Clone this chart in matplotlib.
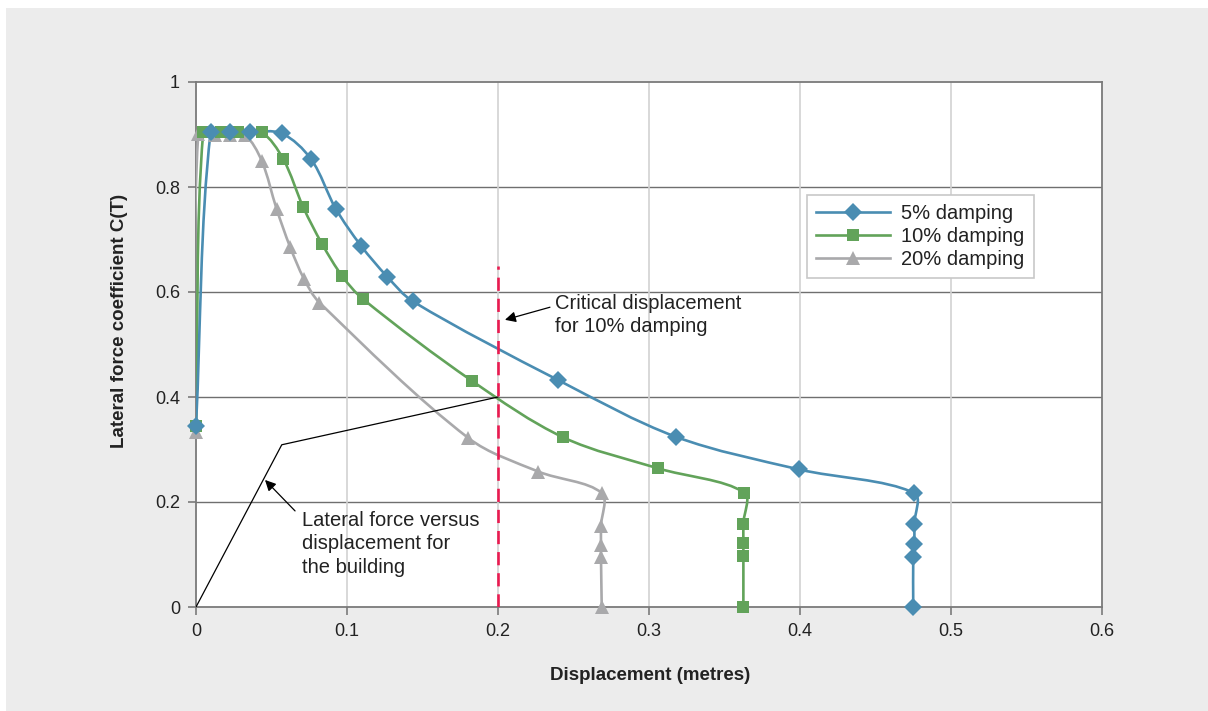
import numpy as np
import matplotlib
matplotlib.use("Agg")
import matplotlib.pyplot as plt
import matplotlib.path as mppath
import matplotlib.patches as mpatches
from matplotlib.lines import Line2D

plt.rcParams['font.family'] = ['Liberation Sans', 'DejaVu Sans']

# values
disp_5 = [0, 0.0097, 0.0225, 0.0358, 0.0568, 0.0762, 0.0925, 0.1093, 0.1267, 0.1437,
          0.240, 0.318, 0.3995, 0.4757, 0.4757, 0.4757, 0.4750, 0.4750]
coef_5 = [0.345, 0.905, 0.905, 0.905, 0.902, 0.853, 0.759, 0.688, 0.629, 0.582,
          0.432, 0.324, 0.262, 0.217, 0.158, 0.120, 0.096, 0.0]

disp_10 = [0, 0.0048, 0.0164, 0.028, 0.0435, 0.0578, 0.0711, 0.0836, 0.0969, 0.1108,
           0.1826, 0.2433, 0.3062, 0.3631, 0.3625, 0.3625, 0.3625, 0.3625]
coef_10 = [0.345, 0.905, 0.905, 0.905, 0.904, 0.853, 0.761, 0.691, 0.630, 0.586,
           0.431, 0.323, 0.264, 0.218, 0.159, 0.122, 0.098, 0.0]

disp_20 = [0, 0.0015, 0.0126, 0.0225, 0.0325, 0.0435, 0.0534, 0.0623, 0.0717, 0.0817,
           0.1803, 0.2267, 0.2687, 0.2682, 0.2682, 0.2682, 0.2687]
coef_20 = [0.334, 0.901, 0.899, 0.899, 0.899, 0.850, 0.758, 0.686, 0.624, 0.580,
           0.322, 0.258, 0.217, 0.154, 0.119, 0.095, 0.0]

building_disp = [0, 0.0568, 0.2]
building_coef = [0, 0.309, 0.4]

critical_disp = 0.2
critical_top = 0.65

series_labels = ['5% damping', '10% damping', '20% damping']
x_ticks = [0, 0.1, 0.2, 0.3, 0.4, 0.5, 0.6]
x_tick_labels = ['0', '0.1', '0.2', '0.3', '0.4', '0.5', '0.6']
y_ticks = [0, 0.2, 0.4, 0.6, 0.8, 1.0]
y_tick_labels = ['0', '0.2', '0.4', '0.6', '0.8', '1']

BLUE = '#4a8db2'
GREEN = '#62a35a'
GRAY = '#a9a9ab'
RED = '#ea1a50'


def smooth_path(xs, ys, sx, sy):
    """ Excel-like smoothed line: cubic bezier through every point,
    tangents weighted by neighbouring segment lengths (screen scaled) """
    p = np.column_stack([np.asarray(xs) * sx, np.asarray(ys) * sy])
    n = len(p)
    verts = [p[0]]
    codes = [mppath.Path.MOVETO]
    for i in range(n - 1):
        p0 = p[i - 1] if i > 0 else p[i]
        p1, p2 = p[i], p[i + 1]
        p3 = p[i + 2] if i + 2 < n else p[i + 1]
        l01 = np.hypot(*(p1 - p0))
        l12 = np.hypot(*(p2 - p1))
        l23 = np.hypot(*(p3 - p2))
        t1 = (p2 - p0) * (l12 / (l01 + l12)) / 3 if l01 + l12 > 0 else 0
        t2 = (p3 - p1) * (l12 / (l12 + l23)) / 3 if l12 + l23 > 0 else 0
        verts += [p1 + t1, p2 - t2, p2]
        codes += [mppath.Path.CURVE4] * 3
    verts = np.array(verts)
    verts[:, 0] /= sx
    verts[:, 1] /= sy
    return mppath.Path(verts, codes)


fig = plt.figure(figsize=(12.08, 7.11), dpi=100, facecolor='white')
fig.patches.append(mpatches.Rectangle((6 / 1208, 0), 1, 703 / 711, transform=fig.transFigure,
                                      facecolor='#ececec', edgecolor='none', zorder=-10))

ax = fig.add_axes([196 / 1208, 1 - 607 / 711, 906 / 1208, 525 / 711])
ax.set_facecolor('white')
ax.set_xlim(0, 0.6)
ax.set_ylim(0, 1)

# gridlines: dark horizontal, light vertical
for y in y_ticks[1:-1]:
    ax.axhline(y, color='#6f6f6f', lw=1.0, zorder=1)
for x in x_ticks[1:-1]:
    ax.axvline(x, color='#d2d2d2', lw=1.2, zorder=1)

for sp in ax.spines.values():
    sp.set_color('#7a7a7a')
    sp.set_linewidth(1.3)

ax.set_xticks(x_ticks)
ax.set_xticklabels(x_tick_labels)
ax.set_yticks(y_ticks)
ax.set_yticklabels(y_tick_labels)
ax.tick_params(direction='out', length=5.5, width=1.2, color='#7a7a7a',
               labelsize=13, labelcolor='#222222', pad=6)

sx, sy = 906 / 0.6, 525.0
series = [(disp_5, coef_5, BLUE, 'D', 9.0), (disp_10, coef_10, GREEN, 's', 8.6),
          (disp_20, coef_20, GRAY, '^', 10.5)]
handles = []
for xs, ys, col, mk, ms in series[::-1]:
    ax.add_patch(mpatches.PathPatch(smooth_path(xs, ys, sx, sy), facecolor='none',
                                    edgecolor=col, lw=1.9, zorder=3))
    ax.plot(xs, ys, ls='none', marker=mk, color=col, markersize=ms,
            markeredgewidth=0, zorder=4, clip_on=False)
for (xs, ys, col, mk, ms), lab in zip(series, series_labels):
    handles.append(Line2D([], [], color=col, lw=1.9, marker=mk,
                          markersize=ms, markeredgewidth=0, label=lab))

ax.plot(building_disp, building_coef, color='black', lw=0.9, zorder=5)
ax.plot([critical_disp, critical_disp], [0, critical_top], color=RED, lw=1.9,
        dashes=(5, 3), zorder=6)

arrow = dict(arrowstyle='-|>', color='black', lw=0.9, mutation_scale=16, shrinkA=0, shrinkB=0)
ax.annotate('', xy=(0.2046, 0.547), xytext=(0.2344, 0.571), arrowprops=arrow, zorder=7)
ax.annotate('', xy=(0.0457, 0.242), xytext=(0.0656, 0.183), arrowprops=arrow, zorder=7)

ax.text(0.2377, 0.597, 'Critical displacement\nfor 10% damping', fontsize=14.5,
        color='#222222', va='top', ha='left', linespacing=1.3, zorder=7)
ax.text(0.0705, 0.183, 'Lateral force versus\ndisplacement for\nthe building', fontsize=14.5,
        color='#222222', va='top', ha='left', linespacing=1.3, zorder=7)

leg = ax.legend(handles=handles, loc='upper left', bbox_to_anchor=(0.674, 0.785),
                borderaxespad=0, fontsize=14.5, frameon=True, fancybox=False,
                edgecolor='#c8c8c8', framealpha=1, numpoints=1, handlelength=3.7,
                handletextpad=0.55, labelspacing=0.2, borderpad=0.45)
leg.get_frame().set_linewidth(1.2)
leg.set_zorder(8)
for t in leg.get_texts():
    t.set_color('#222222')

fig.text(650 / 1208, 1 - 675 / 711, 'Displacement (metres)', fontsize=13.5,
         fontweight='bold', color='#222222', ha='center', va='center')
fig.text(120 / 1208, 1 - 321 / 711, 'Lateral force coefficient C(T)', fontsize=13.5,
         fontweight='bold', color='#222222', ha='center', va='center', rotation=90)

fig.savefig('out.png', dpi=100, facecolor=fig.get_facecolor())
